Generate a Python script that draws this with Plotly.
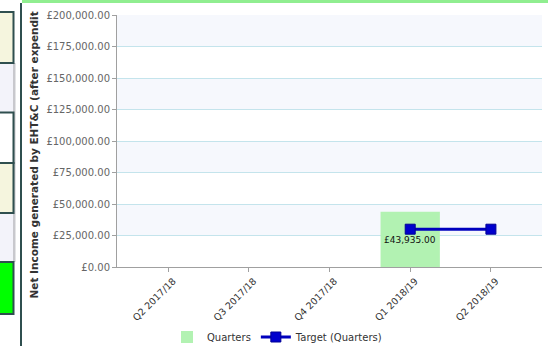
import plotly.graph_objects as go

# Quarterly net income and target
quarters = ["Q2 2017/18", "Q3 2017/18", "Q4 2017/18", "Q1 2018/19", "Q2 2018/19"]
net_income = [None, None, None, 43935, None]
target = [None, None, None, 30000, 30000]
y_ticks = [0, 25000, 50000, 75000, 100000, 125000, 150000, 175000, 200000]
y_tick_text = [f"£{v:,.2f}" for v in y_ticks]

FIG_W, FIG_H = 548, 346
M_L, M_R, M_T, M_B = 117, 6, 15, 79
PW = FIG_W - M_L - M_R
PH = FIG_H - M_T - M_B


def px(x):
    return (x - M_L) / PW


def py(y):
    return (FIG_H - M_B - y) / PH


fig = go.Figure()

fig.add_trace(go.Bar(
    x=quarters, y=net_income, name="Quarters",
    marker=dict(color="rgb(178,242,178)", line=dict(width=0)),
    width=0.735,
))
fig.add_trace(go.Scatter(
    x=quarters, y=target, name="Target (Quarters)", mode="lines+markers",
    line=dict(color="rgb(0,0,190)", width=3),
    marker=dict(symbol="square", size=10, color="rgb(0,0,205)",
                line=dict(color="rgb(0,0,150)", width=1)),
    connectgaps=False,
))

shapes = []
# alternating horizontal bands
for i in range(1, len(y_ticks) - 1, 2):
    shapes.append(dict(type="rect", xref="paper", yref="y", x0=0, x1=1,
                       y0=y_ticks[i], y1=y_ticks[i + 1],
                       fillcolor="rgb(246,248,253)", line=dict(width=0), layer="below"))

# surrounding dashboard frame
def rect(x0, y0, x1, y1, fill, line_color=None, lw=0):
    shapes.append(dict(type="rect", xref="paper", yref="paper",
                       x0=px(x0), x1=px(x1), y0=py(y1), y1=py(y0),
                       fillcolor=fill,
                       line=dict(width=lw, color=line_color or fill), layer="above"))

rect(22, 0, 548, 3, "rgb(144,238,144)")
rect(20, 3, 22, 346, "rgb(47,79,79)")
rect(0, 12, 14, 315, "rgb(243,243,250)")
rect(13, 63, 15.5, 262, "rgb(200,200,205)")
rect(-3, 12, 13.5, 63, "rgb(245,245,222)", "rgb(47,79,79)", 2)
rect(-3, 112.5, 13.5, 163, "rgb(255,255,255)", "rgb(47,79,79)", 2)
rect(-3, 163, 13.5, 213, "rgb(245,245,222)", "rgb(47,79,79)", 2)
rect(-3, 262, 13.5, 314, "rgb(0,255,0)", "rgb(47,79,79)", 2)

annotations = [
    dict(text="<b>Net Income generated by EHT&amp;C (after expendit</b>",
         xref="paper", yref="paper", x=px(33.5), y=py(155),
         xanchor="center", yanchor="middle",
         textangle=-90, showarrow=False,
         font=dict(family="DejaVu Sans", size=10.5, color="#333333")),
]
for q, v in zip(quarters, net_income):
    if v is not None:
        annotations.append(dict(
            text=f"£{v:,.2f}", x=q, y=v, xref="x", yref="y",
            showarrow=False, yshift=-28,
            font=dict(family="DejaVu Sans", size=9, color="#111111")))

fig.update_layout(
    width=FIG_W, height=FIG_H,
    margin=dict(l=M_L, r=M_R, t=M_T, b=M_B, pad=0, autoexpand=False),
    paper_bgcolor="white", plot_bgcolor="white",
    font=dict(family="DejaVu Sans", size=10, color="#333333"),
    xaxis=dict(
        type="category", categoryorder="array", categoryarray=quarters,
        range=[-0.633, 4.633], tickangle=-45, automargin=False,
        tickfont=dict(size=9.5, color="#333333"),
        ticklabelshift=5,
        showline=True, linecolor="rgb(160,160,160)", linewidth=1,
        ticks="outside", ticklen=4, tickcolor="rgb(160,160,160)",
        showgrid=False, zeroline=False, fixedrange=True,
    ),
    yaxis=dict(
        range=[0, 200000], tickmode="array", tickvals=y_ticks, ticktext=y_tick_text,
        automargin=False,
        tickfont=dict(size=10, color="#666666"),
        showline=True, linecolor="rgb(160,160,160)", linewidth=1,
        ticks="outside", ticklen=4, tickcolor="rgb(160,160,160)",
        showgrid=True, gridcolor="rgb(196,228,236)", gridwidth=1,
        zeroline=False, fixedrange=True,
    ),
    legend=dict(
        orientation="h", xanchor="left", yanchor="middle",
        x=px(167), y=py(337),
        font=dict(size=10, color="#333333"),
        bgcolor="rgba(0,0,0,0)", itemwidth=30, tracegroupgap=0,
    ),
    shapes=shapes,
    annotations=annotations,
)

fig.write_html("out.html")
